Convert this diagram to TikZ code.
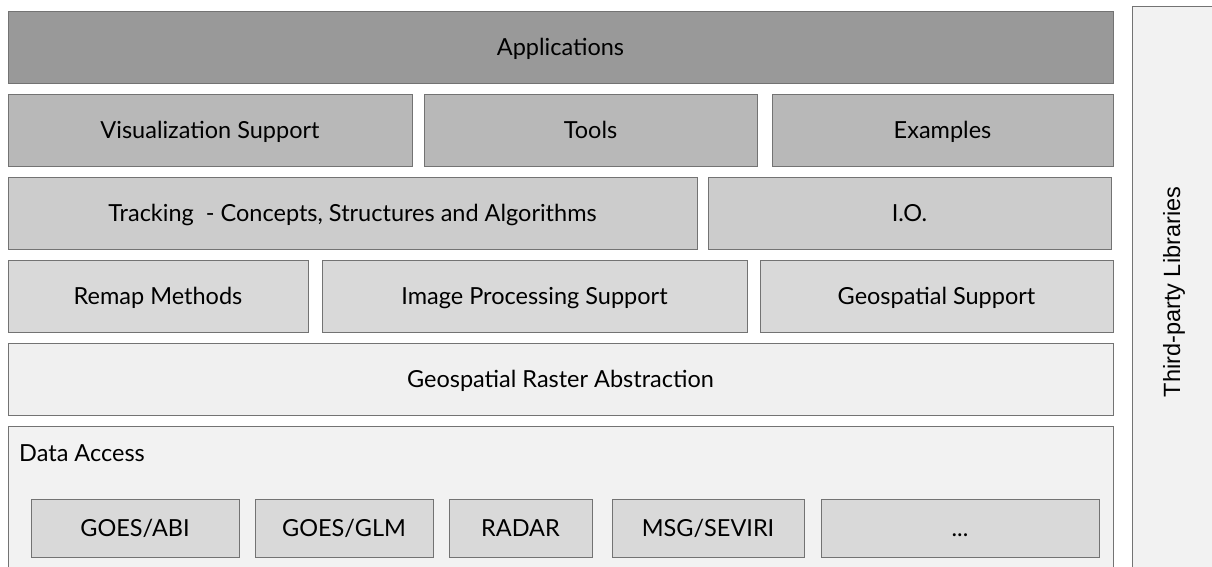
\documentclass[tikz,border=0pt]{standalone}
\usepackage{fontspec}
\setmainfont{Lato}
\newfontfamily\arialfont{Liberation Sans}
\begin{document}
\begin{tikzpicture}[x=1pt,y=-1pt,
  layer/.style={draw=black!55,line width=0.9pt},
  lbl/.style={inner sep=0pt,text height=17pt,text depth=0pt,font=\fontsize{23.5}{28}\selectfont},
  c1/.style={fill=black!40},
  c2/.style={fill=black!28},
  c3/.style={fill=black!20},
  c4/.style={fill=black!15},
  c5/.style={fill=black!6},
  c6/.style={fill=black!5},
]
\clip (0,0) rectangle (1212,567);
\fill[white] (0,0) rectangle (1212,567);
% third party
\draw[layer,fill=black!5] (1132,6) rectangle (1225,580);
\node[rotate=90,inner sep=0pt,font=\arialfont\fontsize{23.5}{28}\selectfont,anchor=center] (tp) at (1174,292) {Third-party Libraries};
% row 1
\draw[layer,c1] (8,11) rectangle node[lbl] (app) {Applications} (1113,83);
% row 2
\draw[layer,c2] (8,94) rectangle node[lbl] (vis) {Visualization Support} (412,166);
\draw[layer,c2] (424,94) rectangle node[lbl] (tools) {Tools} (757,166);
\draw[layer,c2] (772,94) rectangle node[lbl] (ex) {Examples} (1113,166);
% row 3
\draw[layer,c3] (8,177) rectangle node[lbl] (trk) {Tracking \ - Concepts, Structures and Algorithms} (697,249);
\draw[layer,c3] (708,177) rectangle node[lbl] (io) {I.O.} (1111,249);
% row 4
\draw[layer,c4] (8,260) rectangle node[lbl] (remap) {Remap Methods} (308,332);
\draw[layer,c4] (322,260) rectangle node[lbl] (imp) {Image Processing Support} (747,332);
\draw[layer,c4] (760,260) rectangle node[lbl] (geo) {Geospatial Support} (1113,332);
% row 5
\draw[layer,c5] (8,343) rectangle node[lbl] (gra) {Geospatial Raster Abstraction} (1113,415);
% data access
\draw[layer,c6] (8,426) rectangle (1113,590);
\node[lbl,anchor=west] (da) at (19,453) {Data Access};
\draw[layer,c4] (31,499) rectangle node[lbl] (abi) {GOES/ABI} (239,557);
\draw[layer,c4] (255,499) rectangle node[lbl] (glm) {GOES/GLM} (433,557);
\draw[layer,c4] (449,499) rectangle node[lbl] (radar) {RADAR} (592,557);
\draw[layer,c4] (612,499) rectangle node[lbl] (msg) {MSG/SEVIRI} (804,557);
\draw[layer,c4] (821,499) rectangle node[lbl] (dots) {...} (1099,557);
\end{tikzpicture}
\end{document}
